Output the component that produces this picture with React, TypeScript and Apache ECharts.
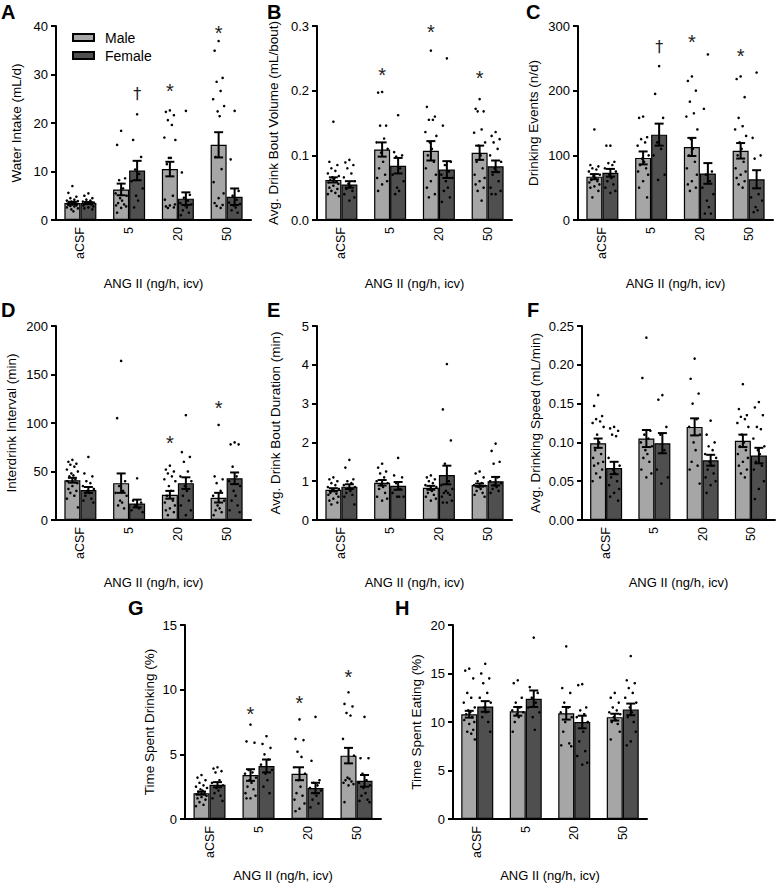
import React, { useEffect, useRef } from 'react';
import * as echarts from 'echarts';

const categories = ['aCSF', '5', '20', '50'];
const xName = 'ANG II (ng/h, icv)';
const MARKS = ['*', '†'];

// ---------- Panel A: Water Intake (mL/d)
const A_maleMean = [3.5, 6.3, 10.5, 15.5];
const A_maleSem = [0.25, 1.2, 1.5, 2.6];
const A_femaleMean = [3.5, 10.2, 4.4, 4.8];
const A_femaleSem = [0.2, 2.0, 1.3, 1.7];
const A_male = [
  [7.0, 5.6, 4.8, 4.5, 4.2, 4.0, 3.9, 3.8, 3.7, 3.6, 3.5, 3.4, 3.3, 3.2, 3.1, 3.0, 2.9, 2.8, 2.6, 2.4, 2.2, 1.8],
  [18.4, 15.5, 8.6, 8.2, 6.5, 5.5, 5.0, 4.5, 4.0, 3.5, 3.2, 3.0, 2.8, 2.5, 1.5],
  [22.6, 22.3, 21.6, 20.6, 19.6, 17.0, 16.5, 12.8, 12.8, 11.5, 5.0, 4.2, 3.2, 3.0, 2.8, 2.6, 2.5],
  [36.9, 34.9, 29.3, 28.5, 26.6, 24.9, 23.5, 22.4, 21.4, 13.0, 10.5, 7.8, 5.5, 4.5, 3.5, 3.1, 2.9, 2.5],
];
const A_female = [
  [5.5, 5.0, 4.5, 4.2, 4.0, 3.8, 3.6, 3.5, 3.4, 3.3, 3.2, 3.0, 2.8, 2.6, 2.4, 2.2],
  [21.8, 16.5, 13.0, 10.4, 9.5, 8.0, 6.5, 5.0, 4.0, 2.6],
  [22.5, 9.8, 5.2, 4.6, 4.0, 3.5, 3.2, 3.0, 2.6, 2.0, 1.5, 1.0],
  [22.5, 12.5, 6.0, 5.0, 4.2, 3.6, 3.3, 3.0, 2.6, 2.0, 1.5],
];
const A_sig = [[1, 1, 26, 1], [2, 0, 27.5, 0], [3, 0, 39.3, 0]]; // [category, sex, y, mark]

// ---------- Panel B: Avg. Drink Bout Volume (mL/bout)
const B_maleMean = [0.062, 0.109, 0.107, 0.104];
const B_maleSem = [0.004, 0.011, 0.015, 0.011];
const B_femaleMean = [0.055, 0.084, 0.078, 0.083];
const B_femaleSem = [0.005, 0.012, 0.013, 0.009];
const B_male = [
  [0.152, 0.09, 0.085, 0.08, 0.076, 0.072, 0.068, 0.066, 0.064, 0.062, 0.06, 0.058, 0.056, 0.053, 0.05, 0.048, 0.045, 0.042, 0.04, 0.037],
  [0.198, 0.197, 0.146, 0.146, 0.126, 0.12, 0.11, 0.104, 0.09, 0.08, 0.07, 0.065, 0.06, 0.055, 0.045],
  [0.262, 0.175, 0.16, 0.155, 0.155, 0.136, 0.13, 0.12, 0.11, 0.1, 0.09, 0.08, 0.07, 0.06, 0.05, 0.04, 0.035],
  [0.187, 0.172, 0.168, 0.168, 0.14, 0.135, 0.12, 0.115, 0.1, 0.09, 0.08, 0.07, 0.065, 0.06, 0.055, 0.05, 0.045, 0.03],
];
const B_female = [
  [0.093, 0.089, 0.085, 0.08, 0.072, 0.066, 0.06, 0.056, 0.052, 0.048, 0.045, 0.04, 0.035, 0.03],
  [0.162, 0.105, 0.1, 0.098, 0.08, 0.07, 0.06, 0.05, 0.045, 0.04],
  [0.25, 0.146, 0.09, 0.085, 0.075, 0.07, 0.065, 0.06, 0.05, 0.045, 0.035, 0.028],
  [0.136, 0.13, 0.125, 0.12, 0.11, 0.1, 0.09, 0.08, 0.075, 0.07, 0.06, 0.05, 0.045, 0.04, 0.04],
];
const B_sig = [[1, 0, 0.23, 0], [2, 0, 0.297, 0], [3, 0, 0.226, 0]];

// ---------- Panel C: Drinking Events (n/d)
const C_maleMean = [67, 96, 113, 107];
const C_maleSem = [4, 10, 14, 12];
const C_femaleMean = [73, 132, 72, 63];
const C_femaleSem = [6, 17, 16, 14];
const C_male = [
  [140, 85, 83, 80, 78, 75, 70, 68, 65, 62, 60, 58, 55, 52, 50, 45, 35],
  [160, 158, 128, 125, 120, 115, 100, 95, 90, 85, 80, 75, 70, 60, 50, 35],
  [222, 215, 200, 183, 165, 160, 140, 125, 110, 100, 90, 80, 70, 60, 55, 50, 45],
  [222, 218, 190, 158, 145, 140, 130, 120, 110, 100, 90, 80, 75, 70, 65, 60, 55, 50],
];
const C_female = [
  [115, 115, 90, 88, 85, 80, 75, 70, 65, 60, 55, 50, 45, 42],
  [238, 195, 158, 120, 110, 100, 70, 62],
  [256, 172, 75, 70, 60, 50, 40, 30, 20, 10, 10],
  [228, 127, 100, 95, 40, 35, 30, 20, 15, 12],
];
const C_sig = [[1, 1, 268, 1], [2, 0, 281, 0], [3, 0, 260, 0]];

// ---------- Panel D: Interdrink Interval (min)
const D_maleMean = [41, 38, 26, 23];
const D_maleSem = [2.5, 10, 4, 5];
const D_femaleMean = [31, 17, 38, 43];
const D_femaleSem = [3, 4, 6, 6];
const D_male = [
  [62, 60, 58, 57, 55, 52, 50, 48, 46, 45, 42, 40, 38, 35, 32, 30, 28, 25, 22, 13],
  [164, 105, 40, 35, 30, 28, 25, 20, 18, 15, 12],
  [56, 52, 50, 48, 45, 42, 40, 35, 30, 25, 20, 18, 15, 12, 10, 8, 5],
  [98, 45, 42, 38, 30, 25, 20, 15, 12, 10, 8, 5],
];
const D_female = [
  [65, 48, 45, 40, 38, 35, 32, 30, 28, 25, 22, 20, 18],
  [43, 20, 18, 15, 12, 10, 8],
  [108, 70, 65, 60, 50, 45, 40, 35, 30, 25, 20, 15, 10, 5],
  [80, 78, 78, 55, 45, 40, 35, 30, 25, 20, 15, 10, 8],
];
const D_sig = [[2, 0, 83, 0], [3, 0, 120, 0]];

// ---------- Panel E: Avg. Drink Bout Duration (min)
const E_maleMean = [0.78, 0.96, 0.83, 0.9];
const E_maleSem = [0.04, 0.07, 0.05, 0.04];
const E_femaleMean = [0.86, 0.88, 1.16, 1.0];
const E_femaleSem = [0.06, 0.1, 0.24, 0.11];
const E_male = [
  [1.1, 1.05, 1.0, 0.95, 0.9, 0.85, 0.8, 0.78, 0.75, 0.7, 0.68, 0.65, 0.6, 0.55, 0.5, 0.45, 0.4],
  [1.45, 1.35, 1.25, 1.2, 1.1, 1.0, 0.95, 0.9, 0.85, 0.8, 0.7, 0.6, 0.55, 0.5],
  [1.15, 1.1, 1.05, 1.0, 0.95, 0.9, 0.85, 0.8, 0.75, 0.7, 0.65, 0.6, 0.55, 0.5],
  [1.25, 1.2, 1.1, 1.0, 0.95, 0.9, 0.88, 0.85, 0.8, 0.75, 0.7, 0.65, 0.6],
];
const E_female = [
  [1.55, 1.35, 1.05, 1.0, 0.95, 0.9, 0.85, 0.8, 0.75, 0.7, 0.65, 0.6, 0.4],
  [1.6, 1.15, 1.1, 0.95, 0.8, 0.7, 0.6, 0.6, 0.6],
  [4.02, 2.85, 2.05, 1.45, 1.0, 0.9, 0.8, 0.75, 0.7, 0.7, 0.65, 0.6, 0.5, 0.45, 0.45],
  [1.97, 1.78, 1.5, 1.45, 1.1, 1.0, 0.95, 0.9, 0.85, 0.8, 0.75, 0.7],
];
const E_sig: number[][] = [];

// ---------- Panel F: Avg. Drinking Speed (mL/min)
const F_maleMean = [0.099, 0.105, 0.12, 0.102];
const F_maleSem = [0.006, 0.011, 0.011, 0.008];
const F_femaleMean = [0.067, 0.099, 0.077, 0.083];
const F_femaleSem = [0.008, 0.013, 0.007, 0.01];
const F_male = [
  [0.161, 0.147, 0.134, 0.13, 0.127, 0.125, 0.12, 0.11, 0.1, 0.09, 0.085, 0.08, 0.075, 0.073, 0.07, 0.065, 0.06, 0.055, 0.05],
  [0.235, 0.183, 0.115, 0.11, 0.105, 0.1, 0.095, 0.09, 0.085, 0.08, 0.075, 0.065, 0.06, 0.055],
  [0.208, 0.182, 0.163, 0.15, 0.13, 0.12, 0.11, 0.1, 0.09, 0.075, 0.07, 0.065, 0.047],
  [0.175, 0.143, 0.135, 0.133, 0.13, 0.125, 0.12, 0.11, 0.1, 0.095, 0.09, 0.085, 0.08, 0.075, 0.07, 0.065, 0.06, 0.055],
];
const F_female = [
  [0.12, 0.118, 0.115, 0.11, 0.108, 0.08, 0.07, 0.065, 0.06, 0.055, 0.05, 0.045, 0.04, 0.035, 0.03, 0.025],
  [0.161, 0.155, 0.12, 0.11, 0.09, 0.065, 0.055, 0.047],
  [0.128, 0.11, 0.1, 0.095, 0.09, 0.085, 0.08, 0.075, 0.07, 0.065, 0.06, 0.055, 0.05, 0.045, 0.035],
  [0.152, 0.145, 0.135, 0.12, 0.117, 0.105, 0.095, 0.09, 0.085, 0.075, 0.07, 0.065, 0.05, 0.04, 0.027],
];
const F_sig: number[][] = [];

// ---------- Panel G: Time Spent Drinking (%)
const G_maleMean = [2.0, 3.4, 3.5, 4.9];
const G_maleSem = [0.12, 0.45, 0.5, 0.6];
const G_femaleMean = [2.65, 4.1, 2.4, 2.95];
const G_femaleSem = [0.2, 0.5, 0.4, 0.45];
const G_male = [
  [3.4, 3.2, 3.0, 2.8, 2.6, 2.5, 2.4, 2.3, 2.2, 2.1, 2.0, 1.9, 1.8, 1.7, 1.6, 1.5, 1.3, 1.1, 1.0],
  [7.3, 6.0, 5.9, 3.8, 3.6, 3.5, 3.2, 3.0, 2.8, 2.5, 2.3, 2.0, 1.8, 1.6, 1.6],
  [7.7, 6.2, 6.1, 5.2, 4.8, 4.0, 3.5, 3.0, 2.5, 2.0, 1.8, 1.5, 1.2, 0.8, 0.6],
  [9.8, 8.9, 8.7, 8.2, 8.0, 6.2, 4.9, 3.2, 3.1, 3.0, 2.9, 2.8, 2.7, 2.6, 1.3],
];
const G_female = [
  [4.0, 3.9, 3.7, 3.6, 3.0, 2.8, 2.6, 2.4, 2.2, 2.0, 1.8, 1.6, 1.4],
  [6.4, 5.8, 5.5, 5.0, 4.6, 4.2, 3.8, 3.5, 3.0, 2.5, 2.0],
  [7.9, 4.5, 3.0, 2.8, 2.6, 2.4, 2.2, 2.0, 1.8, 1.5, 1.2, 0.9],
  [7.9, 4.7, 4.7, 3.5, 3.0, 2.8, 2.6, 2.4, 2.0, 1.8, 1.5, 1.4, 1.3],
];
const G_sig = [[1, 0, 8.4, 0], [2, 0, 9.3, 0], [3, 0, 11.3, 0]];

// ---------- Panel H: Time Spent Eating (%)
const H_maleMean = [10.8, 11.1, 10.9, 10.5];
const H_maleSem = [0.35, 0.45, 0.65, 0.35];
const H_femaleMean = [11.6, 12.4, 10.0, 11.3];
const H_femaleSem = [0.55, 0.85, 0.65, 0.6];
const H_male = [
  [15.5, 15.3, 14.5, 13.0, 12.5, 12.0, 11.5, 11.2, 11.0, 10.8, 10.5, 10.2, 10.0, 9.8, 9.5, 9.2, 9.0, 8.8, 8.5, 8.2],
  [14.3, 14.0, 12.5, 12.0, 11.5, 11.2, 11.0, 10.8, 10.5, 10.0, 9.5, 9.0, 8.5],
  [17.8, 13.5, 13.0, 12.0, 11.5, 11.0, 10.5, 10.0, 9.5, 9.0, 7.8, 7.6, 7.5],
  [13.0, 12.5, 12.0, 11.5, 11.2, 11.0, 10.8, 10.5, 10.2, 10.0, 9.8, 9.5, 9.0, 8.5, 8.2],
];
const H_female = [
  [16.0, 15.0, 14.5, 14.0, 13.0, 12.5, 12.0, 11.5, 11.0, 10.5, 10.0, 9.5, 9.0, 8.3],
  [18.7, 13.6, 13.0, 12.5, 12.0, 11.5, 11.0, 10.5, 9.2],
  [13.9, 13.8, 11.5, 11.2, 10.8, 10.5, 10.0, 9.5, 9.0, 8.0, 7.0, 6.5, 5.8, 5.6],
  [16.8, 14.3, 14.0, 13.5, 13.0, 12.5, 12.0, 11.5, 11.0, 10.5, 10.0, 9.5, 9.0, 8.0, 7.6],
];
const H_sig: number[][] = [];

// ---------- panel definitions
const panels = [
  { letter: 'A', yName: 'Water Intake (mL/d)', max: 40, interval: 10, dec: 0, mM: A_maleMean, mS: A_maleSem, fM: A_femaleMean, fS: A_femaleSem, mD: A_male, fD: A_female, sig: A_sig },
  { letter: 'B', yName: 'Avg. Drink Bout Volume (mL/bout)', max: 0.3, interval: 0.1, dec: 1, mM: B_maleMean, mS: B_maleSem, fM: B_femaleMean, fS: B_femaleSem, mD: B_male, fD: B_female, sig: B_sig },
  { letter: 'C', yName: 'Drinking Events (n/d)', max: 300, interval: 100, dec: 0, mM: C_maleMean, mS: C_maleSem, fM: C_femaleMean, fS: C_femaleSem, mD: C_male, fD: C_female, sig: C_sig },
  { letter: 'D', yName: 'Interdrink Interval (min)', max: 200, interval: 50, dec: 0, mM: D_maleMean, mS: D_maleSem, fM: D_femaleMean, fS: D_femaleSem, mD: D_male, fD: D_female, sig: D_sig },
  { letter: 'E', yName: 'Avg. Drink Bout Duration (min)', max: 5, interval: 1, dec: 0, mM: E_maleMean, mS: E_maleSem, fM: E_femaleMean, fS: E_femaleSem, mD: E_male, fD: E_female, sig: E_sig },
  { letter: 'F', yName: 'Avg. Drinking Speed (mL/min)', max: 0.25, interval: 0.05, dec: 2, mM: F_maleMean, mS: F_maleSem, fM: F_femaleMean, fS: F_femaleSem, mD: F_male, fD: F_female, sig: F_sig },
  { letter: 'G', yName: 'Time Spent Drinking (%)', max: 15, interval: 5, dec: 0, mM: G_maleMean, mS: G_maleSem, fM: G_femaleMean, fS: G_femaleSem, mD: G_male, fD: G_female, sig: G_sig },
  { letter: 'H', yName: 'Time Spent Eating (%)', max: 20, interval: 5, dec: 0, mM: H_maleMean, mS: H_maleSem, fM: H_femaleMean, fS: H_femaleSem, mD: H_male, fD: H_female, sig: H_sig },
];

// ---------- layout (pixels)
const layout = [
  { left: 56, top: 26, width: 195, height: 194, yGap: 33, xGap: 57, lx: 1, ly: 2 },
  { left: 317, top: 26, width: 195, height: 194, yGap: 37, xGap: 57, lx: 267, ly: 2 },
  { left: 578, top: 26, width: 195, height: 194, yGap: 38, xGap: 57, lx: 526, ly: 2 },
  { left: 56, top: 326, width: 195, height: 194, yGap: 38, xGap: 56, lx: 1, ly: 300 },
  { left: 317, top: 326, width: 195, height: 194, yGap: 35, xGap: 56, lx: 267, ly: 300 },
  { left: 582, top: 326, width: 193, height: 194, yGap: 40, xGap: 56, lx: 527, ly: 300 },
  { left: 185, top: 625, width: 196, height: 194, yGap: 29, xGap: 50, lx: 128, ly: 598 },
  { left: 453, top: 625, width: 194, height: 194, yGap: 30, xGap: 50, lx: 395, ly: 598 },
];

const FONT = '"Liberation Sans", Arial, Helvetica, sans-serif';
const BAR_W = 16;
const CAP = 4.5;
const MALE_COLOR = '#a6a6a6';
const FEMALE_COLOR = '#4f4f4f';
const JITTER = [0, -4, 4, -2, 2, -5.5, 5.5, -1, 1, -3, 3, -5, 5];

function buildOption() {
  const grid: any[] = [];
  const xAxis: any[] = [];
  const yAxis: any[] = [];
  const series: any[] = [];
  const graphic: any[] = [];

  panels.forEach((p, i) => {
    const L = layout[i];
    grid.push({ left: L.left, top: L.top, width: L.width, height: L.height, containLabel: false });
    xAxis.push({
      type: 'category', gridIndex: i, data: categories,
      axisLine: { lineStyle: { color: '#000', width: 2 } },
      axisTick: { show: false },
      axisLabel: { rotate: 90, fontSize: 12.5, color: '#000', margin: 7, fontFamily: FONT },
      name: xName, nameLocation: 'middle', nameGap: L.xGap, nameMoveOverlap: false,
      nameTextStyle: { fontSize: 13, color: '#000', fontFamily: FONT },
    });
    yAxis.push({
      type: 'value', gridIndex: i, min: 0, max: p.max, interval: p.interval,
      axisLine: { show: true, lineStyle: { color: '#000', width: 2 } },
      axisTick: { show: true, length: 5, lineStyle: { color: '#000', width: 2 } },
      splitLine: { show: false },
      axisLabel: { fontSize: 13, color: '#000', margin: 8, fontFamily: FONT, formatter: (v: number) => v.toFixed(p.dec) },
      name: p.yName, nameLocation: 'middle', nameGap: L.yGap, nameMoveOverlap: false,
      nameTextStyle: { fontSize: 13.5, color: '#000', fontFamily: FONT },
    });

    series.push({
      type: 'bar', name: 'Male', xAxisIndex: i, yAxisIndex: i, data: p.mM,
      barWidth: BAR_W, barGap: '0%', z: 2,
      itemStyle: { color: MALE_COLOR, borderColor: '#000', borderWidth: 1.2 },
    });
    series.push({
      type: 'bar', name: 'Female', xAxisIndex: i, yAxisIndex: i, data: p.fM,
      barWidth: BAR_W, barGap: '0%', z: 2,
      itemStyle: { color: FEMALE_COLOR, borderColor: '#000', borderWidth: 1.2 },
    });

    // individual points
    const dots: number[][] = [];
    [p.mD, p.fD].forEach((groups, s) => {
      groups.forEach((vals, c) => vals.forEach((v, k) => dots.push([c, v, k, s])));
    });
    series.push({
      type: 'custom', xAxisIndex: i, yAxisIndex: i, z: 3, data: dots,
      encode: { x: 0, y: 1 }, silent: true,
      renderItem: (params: any, api: any) => {
        const pt = api.coord([api.value(0), api.value(1)]);
        const s = api.value(3);
        const x = pt[0] + (s === 0 ? -BAR_W / 2 : BAR_W / 2) + JITTER[api.value(2) % JITTER.length];
        return { type: 'circle', shape: { cx: x, cy: pt[1], r: 1.3 }, style: { fill: '#000' } };
      },
    });

    // error bars (mean ± SEM)
    const errs: number[][] = [];
    p.mM.forEach((m, c) => errs.push([c, m, p.mS[c], 0]));
    p.fM.forEach((m, c) => errs.push([c, m, p.fS[c], 1]));
    series.push({
      type: 'custom', xAxisIndex: i, yAxisIndex: i, z: 4, data: errs,
      encode: { x: 0, y: 1 }, silent: true,
      renderItem: (params: any, api: any) => {
        const c = api.value(0), m = api.value(1), e = api.value(2), s = api.value(3);
        const hi = api.coord([c, m + e]);
        const lo = api.coord([c, m - e]);
        const x = hi[0] + (s === 0 ? -BAR_W / 2 : BAR_W / 2);
        const st = { stroke: '#000', lineWidth: 2 };
        return {
          type: 'group',
          children: [
            { type: 'line', shape: { x1: x, y1: hi[1], x2: x, y2: lo[1] }, style: st },
            { type: 'line', shape: { x1: x - CAP, y1: hi[1], x2: x + CAP, y2: hi[1] }, style: st },
            { type: 'line', shape: { x1: x - CAP, y1: lo[1], x2: x + CAP, y2: lo[1] }, style: st },
          ],
        };
      },
    });

    // significance marks
    if (p.sig.length) {
      series.push({
        type: 'custom', xAxisIndex: i, yAxisIndex: i, z: 5, data: p.sig.map((d) => [d[0], d[2], d[1], d[3]]),
        encode: { x: 0, y: 1 }, silent: true,
        renderItem: (params: any, api: any) => {
          const pt = api.coord([api.value(0), api.value(1)]);
          const s = api.value(2);
          const mk = MARKS[api.value(3)];
          return {
            type: 'text',
            x: pt[0] + (s === 0 ? -BAR_W / 2 : BAR_W / 2),
            y: pt[1] + (mk === '*' ? 4 : 0),
            style: {
              text: mk, fontSize: mk === '*' ? 20 : 16,
              fontFamily: mk === '*' ? FONT : '"DejaVu Sans", sans-serif',
              fill: '#222', align: 'center', verticalAlign: 'middle',
            },
          };
        },
      });
    }

    graphic.push({
      type: 'text', x: L.lx, y: L.ly,
      style: { text: p.letter, fontSize: 20, fontWeight: 'bold', fontFamily: FONT, fill: '#000' },
    });
  });

  return {
    animation: false,
    backgroundColor: '#fff',
    textStyle: { fontFamily: FONT },
    legend: {
      data: ['Male', 'Female'], orient: 'vertical', left: 67, top: 25,
      itemWidth: 21, itemHeight: 7, itemGap: 3, icon: 'rect', selectedMode: false,
      textStyle: { fontSize: 14, color: '#000', fontFamily: FONT, lineHeight: 15, padding: [0, 0, 0, 6] },
    },
    grid, xAxis, yAxis, series, graphic,
  };
}

export default function App() {
  const ref = useRef<HTMLDivElement>(null);
  useEffect(() => {
    const chart = echarts.init(ref.current!, null, { renderer: 'svg' });
    chart.setOption(buildOption() as any);
    return () => chart.dispose();
  }, []);
  return (
    <div
      ref={ref}
      style={{ position: 'absolute', left: 0, top: 0, width: 777, height: 888, background: '#fff' }}
    />
  );
}
